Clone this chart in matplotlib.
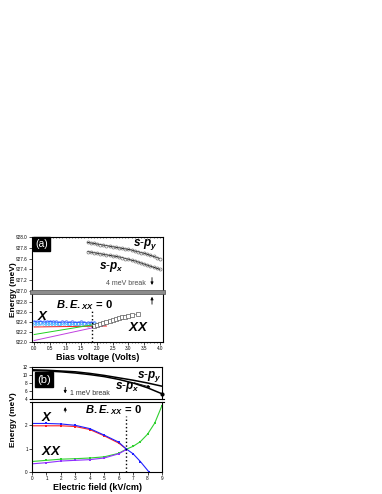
import numpy as np
import matplotlib
matplotlib.use("Agg")
import matplotlib.pyplot as plt
from matplotlib.patches import Rectangle

plt.rcParams['font.family'] = ['Liberation Sans', 'DejaVu Sans']
plt.rcParams['mathtext.fontset'] = 'custom'
plt.rcParams['mathtext.it'] = 'Liberation Sans:italic:bold'
plt.rcParams['mathtext.rm'] = 'Liberation Sans:bold'
plt.rcParams['mathtext.bf'] = 'Liberation Sans:bold'

# ---- panel (a) data: bias voltage (V) vs energy (meV)
spy_v = [1.70, 1.80, 1.90, 2.00, 2.10, 2.20, 2.30, 2.40, 2.50, 2.60, 2.70, 2.80,
         2.90, 3.00, 3.10, 3.20, 3.30, 3.40, 3.50, 3.60, 3.70, 3.80, 3.90, 4.00]
spy_e = [927.90, 927.89, 927.88, 927.87, 927.86, 927.85, 927.84, 927.83, 927.82, 927.81,
         927.80, 927.79, 927.78, 927.77, 927.76, 927.74, 927.73, 927.71, 927.70, 927.68,
         927.66, 927.64, 927.62, 927.60]
spx_v = spy_v
spx_e = [927.73, 927.72, 927.71, 927.70, 927.69, 927.68, 927.67, 927.66, 927.65, 927.64,
         927.63, 927.62, 927.60, 927.59, 927.57, 927.56, 927.54, 927.52, 927.50, 927.48,
         927.46, 927.44, 927.42, 927.40]

x_v = [0.0, 0.1, 0.2, 0.3, 0.4, 0.5, 0.6, 0.7, 0.8, 0.9, 1.0, 1.1, 1.2, 1.3, 1.4, 1.5,
       1.6, 1.7, 1.8, 1.9]
x_e = [922.41, 922.40, 922.41, 922.40, 922.40, 922.41, 922.40, 922.40, 922.39, 922.40,
       922.40, 922.39, 922.40, 922.39, 922.39, 922.40, 922.39, 922.38, 922.39, 922.38]
x2_e = [922.37, 922.37, 922.38, 922.37, 922.37, 922.37, 922.36, 922.37, 922.37, 922.36,
        922.37, 922.36, 922.36, 922.37, 922.36, 922.36, 922.36, 922.35, 922.36, 922.36]
red_v = [0.0, 2.3]
red_a = [922.30, 922.32]
green_v = [0.0, 2.4]
green_a = [922.15, 922.40]
purple_v = [0.0, 2.2]
purple_a = [922.03, 922.33]
xx_v = [1.90, 2.00, 2.10, 2.20, 2.30, 2.40, 2.50, 2.60, 2.70, 2.80, 2.90, 3.00, 3.10, 3.30]
xx_e = [922.33, 922.35, 922.36, 922.38, 922.40, 922.42, 922.44, 922.46, 922.48, 922.50,
        922.51, 922.53, 922.54, 922.56]
be_a = 1.85

# ---- panel (b) data: electric field (kV/cm) vs energy (meV)
field = [0, 1, 2, 3, 4, 5, 6, 7, 8, 9]
spy_b = [11.3, 11.2, 11.0, 10.8, 10.4, 9.9, 9.3, 8.7, 8.0, 7.2]
spx_b = [11.1, 11.0, 10.8, 10.5, 10.1, 9.6, 8.9, 8.0, 6.8, 5.3]

blue_f = [0, 1, 2, 3, 4, 5, 6, 6.5, 7, 7.5, 8.1]
blue_e = [2.08, 2.08, 2.06, 2.0, 1.86, 1.58, 1.28, 1.0, 0.78, 0.45, 0.0]
red_f = [0, 1, 2, 3, 4, 5, 6, 6.5]
red_e = [1.98, 1.98, 1.98, 1.95, 1.82, 1.55, 1.24, 1.0]
green_f = [0, 1, 2, 3, 4, 5, 6, 6.5, 7, 7.5, 8, 8.5, 9]
green_e = [0.45, 0.5, 0.55, 0.57, 0.6, 0.65, 0.8, 0.97, 1.1, 1.3, 1.62, 2.1, 2.85]
purple_f = [0, 1, 2, 3, 4, 5, 6, 6.5]
purple_e = [0.35, 0.4, 0.47, 0.5, 0.53, 0.6, 0.78, 0.95]
be_b = 6.5

fig = plt.figure(figsize=(3.82, 4.94), dpi=100)
W, H = 382.0, 494.0


def add_ax(l, r, t, b):
    return fig.add_axes([l / W, 1 - b / H, (r - l) / W, (b - t) / H])


def style(ax, top=True, bottom=True):
    ax.tick_params(labelsize=3.3, length=2, width=0.5, pad=1)
    ax.tick_params(which='minor', length=1, width=0.4)
    for s in ax.spines.values():
        s.set_linewidth(0.8)
    ax.spines['top'].set_visible(top)
    ax.spines['bottom'].set_visible(bottom)


arr = dict(arrowstyle='-|>', lw=0.6, color='k', mutation_scale=4)

# ===== (a) upper
a1 = add_ax(32, 163, 237, 291)
a1.plot(spy_v, spy_e, color='k', lw=0.6, marker='o', ms=2.2, mfc='none', mec='0.45', mew=0.5)
a1.plot(spx_v, spx_e, color='k', lw=0.6, marker='o', ms=2.2, mfc='none', mec='0.45', mew=0.5)
a1.set_xlim(-0.07, 4.1)
a1.set_ylim(927.0, 928.0)
a1.set_yticks(np.arange(927.0, 928.01, 0.2))
a1.set_yticklabels([f"{v:.1f}" for v in np.arange(927.0, 928.01, 0.2)])
a1.set_xticks([])
a1.xaxis.set_ticks_position('top')
a1.set_xticks(np.arange(0, 4.01, 0.1), minor=True)
a1.tick_params(axis='x', which='minor', direction='in', top=True)
style(a1, bottom=False)
a1.text(3.15, 927.86, r'$s$-$p_y$', fontsize=8.5, ha='left', va='center')
a1.text(2.05, 927.45, r'$s$-$p_x$', fontsize=8.5, ha='left', va='center')
a1.text(2.3, 927.13, '4 meV break', fontsize=5, color='0.3', ha='left', va='center')
a1.annotate('', xy=(3.75, 927.06), xytext=(3.75, 927.3), arrowprops=arr)
a1.text(0.025, 0.97, '(a)', transform=a1.transAxes, fontsize=7.5, color='w', va='top', ha='left',
        bbox=dict(boxstyle='square,pad=0.2', fc='k', ec='k'))

# ===== (a) lower
a2 = add_ax(32, 163, 292, 342)
a2.plot(x_v, x_e, ls='none', marker='o', ms=2.5, mfc='none', mec='#3060ff', mew=0.5)
a2.plot(x_v, x2_e, ls='none', marker='o', ms=2.5, mfc='none', mec='#40c8ff', mew=0.5)
a2.plot(x_v, x_e, color='#3050ff', lw=0.6)
a2.plot(red_v, red_a, color='#ff2020', lw=0.7)
a2.plot(green_v, green_a, color='#20d020', lw=0.7)
a2.plot(purple_v, purple_a, color='#c040e0', lw=0.7)
a2.plot(xx_v, xx_e, ls='-', color='0.5', lw=0.5, marker='s', ms=2.5, mfc='w', mec='0.35', mew=0.5)
a2.plot([be_a, be_a], [922.0, 922.64], color='k', ls=':', lw=1.0)
a2.set_xlim(-0.07, 4.1)
a2.set_ylim(922.0, 923.0)
a2.set_yticks(np.arange(922.0, 922.81, 0.2))
a2.set_yticklabels([f"{v:.1f}" for v in np.arange(922.0, 922.81, 0.2)])
a2.set_xticks(np.arange(0, 4.01, 0.5))
a2.set_xticklabels([f"{v:.1f}" for v in np.arange(0, 4.01, 0.5)])
a2.set_xticks(np.arange(0, 4.01, 0.1), minor=True)
style(a2, top=False)
a2.text(0.1, 922.52, r'$X$', fontsize=9.5, ha='left', va='center')
a2.text(3.0, 922.3, r'$XX$', fontsize=9.5, ha='left', va='center')
a2.text(0.7, 922.74, r'$B.E._{XX}$ = 0', fontsize=8, fontweight='bold', ha='left', va='center')
a2.annotate('', xy=(3.75, 922.96), xytext=(3.75, 922.7), arrowprops=arr)
a2.set_xlabel('Bias voltage (Volts)', fontsize=6.5, fontweight='bold', labelpad=1)

# break band (a)
fig.patches.append(Rectangle((30 / W, 1 - 293.5 / H), 135 / W, 3.5 / H, transform=fig.transFigure,
                             fc='0.55', ec='0.3', lw=0.5))
fig.text(14 / W, 1 - 290 / H, 'Energy (meV)', rotation=90, fontsize=6, fontweight='bold',
         ha='center', va='center')

# ===== (b) upper
b1 = add_ax(32, 162, 367, 399)
b1.plot(field, spy_b, color='k', lw=1.1)
b1.plot(field, spx_b, color='k', lw=1.1)
b1.plot(field[-1:], spx_b[-1:], 'ko', ms=2, clip_on=False)
b1.set_xlim(0, 9)
b1.set_ylim(4, 12)
b1.set_yticks([4, 6, 8, 10, 12])
b1.set_xticks([])
style(b1, bottom=False)
b1.text(7.3, 9.6, r'$s$-$p_y$', fontsize=8.5, ha='left', va='center')
b1.text(5.75, 7.0, r'$s$-$p_x$', fontsize=8.5, ha='left', va='center')
b1.annotate('', xy=(8.4, 6.75), xytext=(6.9, 8.25), arrowprops=arr)
b1.text(2.6, 5.4, '1 meV break', fontsize=5, color='0.2', ha='left', va='center')
b1.annotate('', xy=(2.3, 4.7), xytext=(2.3, 7.6), arrowprops=arr)
b1.text(0.04, 0.76, '(b)', transform=b1.transAxes, fontsize=8, color='w', va='top', ha='left',
        bbox=dict(boxstyle='square,pad=0.2', fc='k', ec='k'))

# ===== (b) lower
b2 = add_ax(32, 162, 402, 472)
mk = dict(marker='s', ms=1.8, mew=0)
b2.plot(green_f, green_e, color='#30d030', lw=0.8, **mk)
b2.plot(purple_f, purple_e, color='#9030ff', lw=0.8, **mk)
b2.plot(red_f, red_e, color='#ff2020', lw=0.8, **mk)
b2.plot(blue_f, blue_e, color='#2020ff', lw=0.8, **mk)
b2.plot([be_b, be_b], [0, 2.4], color='k', ls=':', lw=1.0)
b2.set_xlim(0, 9)
b2.set_ylim(0, 3)
b2.set_yticks([0, 1, 2])
b2.set_xticks(range(0, 10))
style(b2, top=False)
b2.text(0.6, 2.35, r'$X$', fontsize=9.5, ha='left', va='center')
b2.text(0.6, 0.9, r'$XX$', fontsize=9.5, ha='left', va='center')
b2.text(3.7, 2.65, r'$B.E._{XX}$ = 0', fontsize=8, fontweight='bold', ha='left', va='center')
b2.annotate('', xy=(2.3, 2.9), xytext=(2.3, 2.45), arrowprops=arr)
b2.set_xlabel('Electric field (kV/cm)', fontsize=6.5, fontweight='bold', labelpad=1)

# break lines (b)
for yy in (399.0, 402.0):
    fig.add_artist(plt.Line2D([30 / W, 164 / W], [1 - yy / H, 1 - yy / H], color='k', lw=0.8))
fig.text(14 / W, 1 - 420 / H, 'Energy (meV)', rotation=90, fontsize=6, fontweight='bold',
         ha='center', va='center')

fig.savefig('out.png', dpi=100)
